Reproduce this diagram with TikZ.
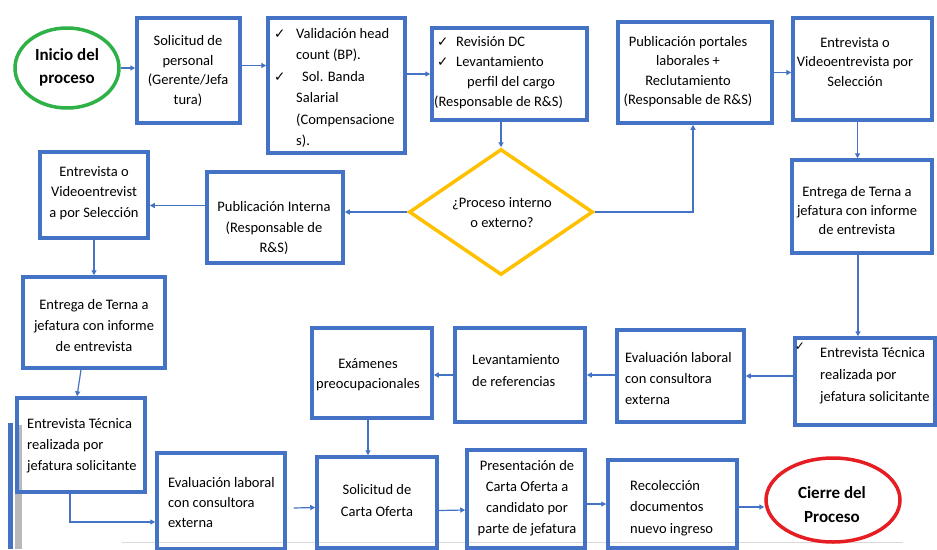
\documentclass[tikz,border=0pt]{standalone}
\usepackage{fontspec}
\setmainfont{Carlito}
\newfontfamily\symfont{DejaVu Sans}
\usetikzlibrary{shapes.geometric,arrows.meta}
\definecolor{boxblue}{RGB}{68,114,196}
\definecolor{linkblue}{RGB}{68,114,196}
\definecolor{startgreen}{RGB}{46,178,72}
\definecolor{endred}{RGB}{230,30,36}
\definecolor{decgold}{RGB}{255,192,0}
\newcommand{\ck}{{\symfont\fontsize{13.5}{13.5}\selectfont ✓}}
\newcommand{\fsz}[1]{\fontsize{14.5}{#1}\selectfont}
\begin{document}
\begin{tikzpicture}[x=1pt,y=-1pt,
  box/.style={draw=boxblue, line width=3.5pt, rectangle, inner sep=0pt},
  txt/.style={inner sep=0pt, align=center, text=black},
  ltxt/.style={inner sep=0pt, align=left, anchor=west, text=black},
  arr/.style={draw=linkblue, line width=1.2pt, -{Triangle[length=5pt,width=5pt]}},
]
\useasboundingbox[fill=white] (0,0) rectangle (937,549);
% screenshot edge marks
\fill[boxblue] (8,423) rectangle (13,549);
\fill[gray!55] (15,425) rectangle (22,549);
\draw[gray!30, line width=1pt] (122,542) -- (903,542);

% shapes
\node[ellipse, draw=startgreen, line width=3.5pt, minimum width=104pt, minimum height=80pt, inner sep=0pt] (ini) at (67,68) {};
\node[box, minimum width=103pt, minimum height=105pt] (sol) at (188.5,70.5) {};
\node[box, minimum width=137pt, minimum height=135pt] (val) at (336.5,85.5) {};
\node[box, minimum width=155pt, minimum height=92pt] (rev) at (509.5,74) {};
\node[box, minimum width=154pt, minimum height=101pt] (pub) at (695,72.5) {};
\node[box, minimum width=139pt, minimum height=102pt] (ent1) at (862.5,69) {};
\node[diamond, draw=decgold, line width=3.5pt, minimum width=184pt, minimum height=126pt, inner sep=0pt] (dia) at (501,212) {};
\node[box, minimum width=136pt, minimum height=91pt] (pint) at (275,217.5) {};
\node[box, minimum width=108pt, minimum height=86pt] (ent2) at (94,195) {};
\node[box, minimum width=142pt, minimum height=91pt] (ter2) at (94,322.5) {};
\node[box, minimum width=140pt, minimum height=93pt] (ter1) at (862,206.5) {};
\node[box, minimum width=140pt, minimum height=87pt] (tec1) at (865,381.5) {};
\node[box, minimum width=127pt, minimum height=92pt] (eval1) at (680.5,376) {};
\node[box, minimum width=130pt, minimum height=94pt] (lev) at (520,375) {};
\node[box, minimum width=120pt, minimum height=90pt] (exa) at (372,373) {};
\node[box, minimum width=128pt, minimum height=94pt] (tec2) at (81,445) {};
\node[box, minimum width=128pt, minimum height=96pt] (eval2) at (221,501) {};
\node[box, minimum width=120pt, minimum height=91pt] (sco) at (377,502.5) {};
\node[box, minimum width=118pt, minimum height=98pt] (pres) at (526,499) {};
\node[box, minimum width=129pt, minimum height=88pt] (rec) at (672.5,504) {};
\node[ellipse, draw=endred, line width=3.5pt, minimum width=134pt, minimum height=84pt, inner sep=0pt] (fin) at (833,500) {};

% texts
\node[txt, font=\bfseries\fontsize{17}{23}\selectfont] (ini-t) at (67,67) {Inicio del\\proceso};
\node[txt, font=\fsz{19.5}] (sol-t) at (188,71) {Solicitud de\\personal\\(Gerente/Jefa\\tura)};
\node[ltxt, font=\fsz{21.4}] (val-t) at (274,88) {\makebox[22pt][l]{\ck}Validación head\\
\hspace*{22pt}count (BP).\\
\makebox[22pt][l]{\ck}\hspace*{6pt}Sol. Banda\\
\hspace*{22pt}Salarial\\
\hspace*{22pt}(Compensacione\\
\hspace*{22pt}s).};
\node[ltxt, font=\fsz{20}] (rev-t) at (434,72.5) {\hspace*{3pt}\makebox[19pt][l]{\ck}Revisión DC\\
\hspace*{3pt}\makebox[19pt][l]{\ck}Levantamiento\\
\hspace*{33pt}perfil del cargo\\
(Responsable de R\&S)};
\node[txt, font=\fsz{19.5}] (pub-t) at (688,71.5) {Publicación portales\\laborales +\\Reclutamiento\\(Responsable de R\&S)};
\node[txt, font=\fsz{19.5}] (ent1-t) at (855,62) {Entrevista o\\Videoentrevista por\\Selección};
\node[txt, font=\fsz{20}] (dia-t) at (502,213) {¿Proceso interno\\o externo?};
\node[txt, font=\fsz{20.5}] (pint-t) at (274,228) {Publicación Interna\\(Responsable de\\R\&S)};
\node[txt, font=\fsz{20.5}] (ent2-t) at (94,193) {Entrevista o\\Videoentrevist\\a por Selección};
\node[txt, font=\fsz{21}] (ter2-t) at (94,326) {Entrega de Terna a\\jefatura con informe\\de entrevista};
\node[txt, font=\fsz{19}] (ter1-t) at (857,211) {Entrega de Terna a\\jefatura con informe\\de entrevista};
\node[txt, font=\symfont\fontsize{12}{12}\selectfont] (tec1-c) at (800,347) {✓};
\node[ltxt, font=\fsz{22}] (tec1-t) at (820,376) {Entrevista Técnica\\realizada por\\jefatura solicitante};
\node[ltxt, font=\fsz{21}] (eval1-t) at (625,379) {Evaluación laboral\\con consultora\\externa};
\node[ltxt, font=\fsz{22}] (lev-t) at (472,371) {Levantamiento\\de referencias};
\node[txt, font=\fsz{20}] (exa-t) at (368,375) {Exámenes\\preocupacionales};
\node[ltxt, font=\fsz{21}] (tec2-t) at (27,446) {Entrevista Técnica\\realizada por\\jefatura solicitante};
\node[ltxt, font=\fsz{20}] (eval2-t) at (168,503) {Evaluación laboral\\con consultora\\externa};
\node[txt, font=\fsz{22}] (sco-t) at (377,501) {Solicitud de\\Carta Oferta};
\node[txt, font=\fsz{21}] (pres-t) at (527,498) {Presentación de\\Carta Oferta a\\candidato por\\parte de jefatura};
\node[ltxt, font=\fsz{21.5}] (rec-t) at (630,508) {Recolección\\documentos\\nuevo ingreso};
\node[txt, font=\bfseries\fontsize{17}{24}\selectfont] (fin-t) at (832,505) {Cierre del\\Proceso};

% connectors
\draw[arr] (ini.east) -- (sol.west |- ini.east);
\draw[arr] ([yshift=5pt]sol.east) -- ([yshift=5pt]sol.east -| val.west);
\draw[arr] (val.east |- rev.west) -- (rev.west);
\draw[arr] (rev.south -| dia.north) -- (dia.north);
\draw[arr] (dia.west) -- (pint.east |- dia.west);
\draw[arr] (dia.east) -| ([xshift=-2pt]pub.south);
\draw[arr] (pub.east) -- (ent1.west |- pub.east);
\draw[arr] ([xshift=-5pt]ent1.south) -- ([xshift=-5pt]ent1.south |- ter1.north);
\draw[arr] ([xshift=-4pt]ter1.south) -- ([xshift=-4pt]ter1.south |- tec1.north);
\draw[arr] (tec1.west |- eval1.east) -- (eval1.east);
\draw[arr] (eval1.west |- lev.east) -- (lev.east);
\draw[arr] (lev.west) -- (exa.east |- lev.west);
\draw[arr] ([xshift=-4pt]exa.south) -- ([xshift=-4pt]exa.south |- sco.north);
\draw[arr] ([yshift=12pt]pint.west) -- ([yshift=12pt]pint.west -| ent2.east);
\draw[arr] (ent2.south) -- (ent2.south |- ter2.north);
\draw[arr] ([xshift=-13pt]ter2.south) -- ([xshift=-4pt]tec2.north);
\draw[arr] ([xshift=-11pt]tec2.south) |- ([yshift=-21pt]eval2.west);
\draw[arr] ([xshift=7pt,yshift=-7pt]eval2.east) -- ([yshift=-5pt]sco.west);
\draw[arr] ([yshift=-8pt]sco.east) -- ([yshift=-11pt]pres.west);
\draw[arr] (pres.east |- rec.west) -- (rec.west);
\draw[arr] ([yshift=-3pt]rec.east) -- ([yshift=-7pt]fin.west);
\end{tikzpicture}
\end{document}
